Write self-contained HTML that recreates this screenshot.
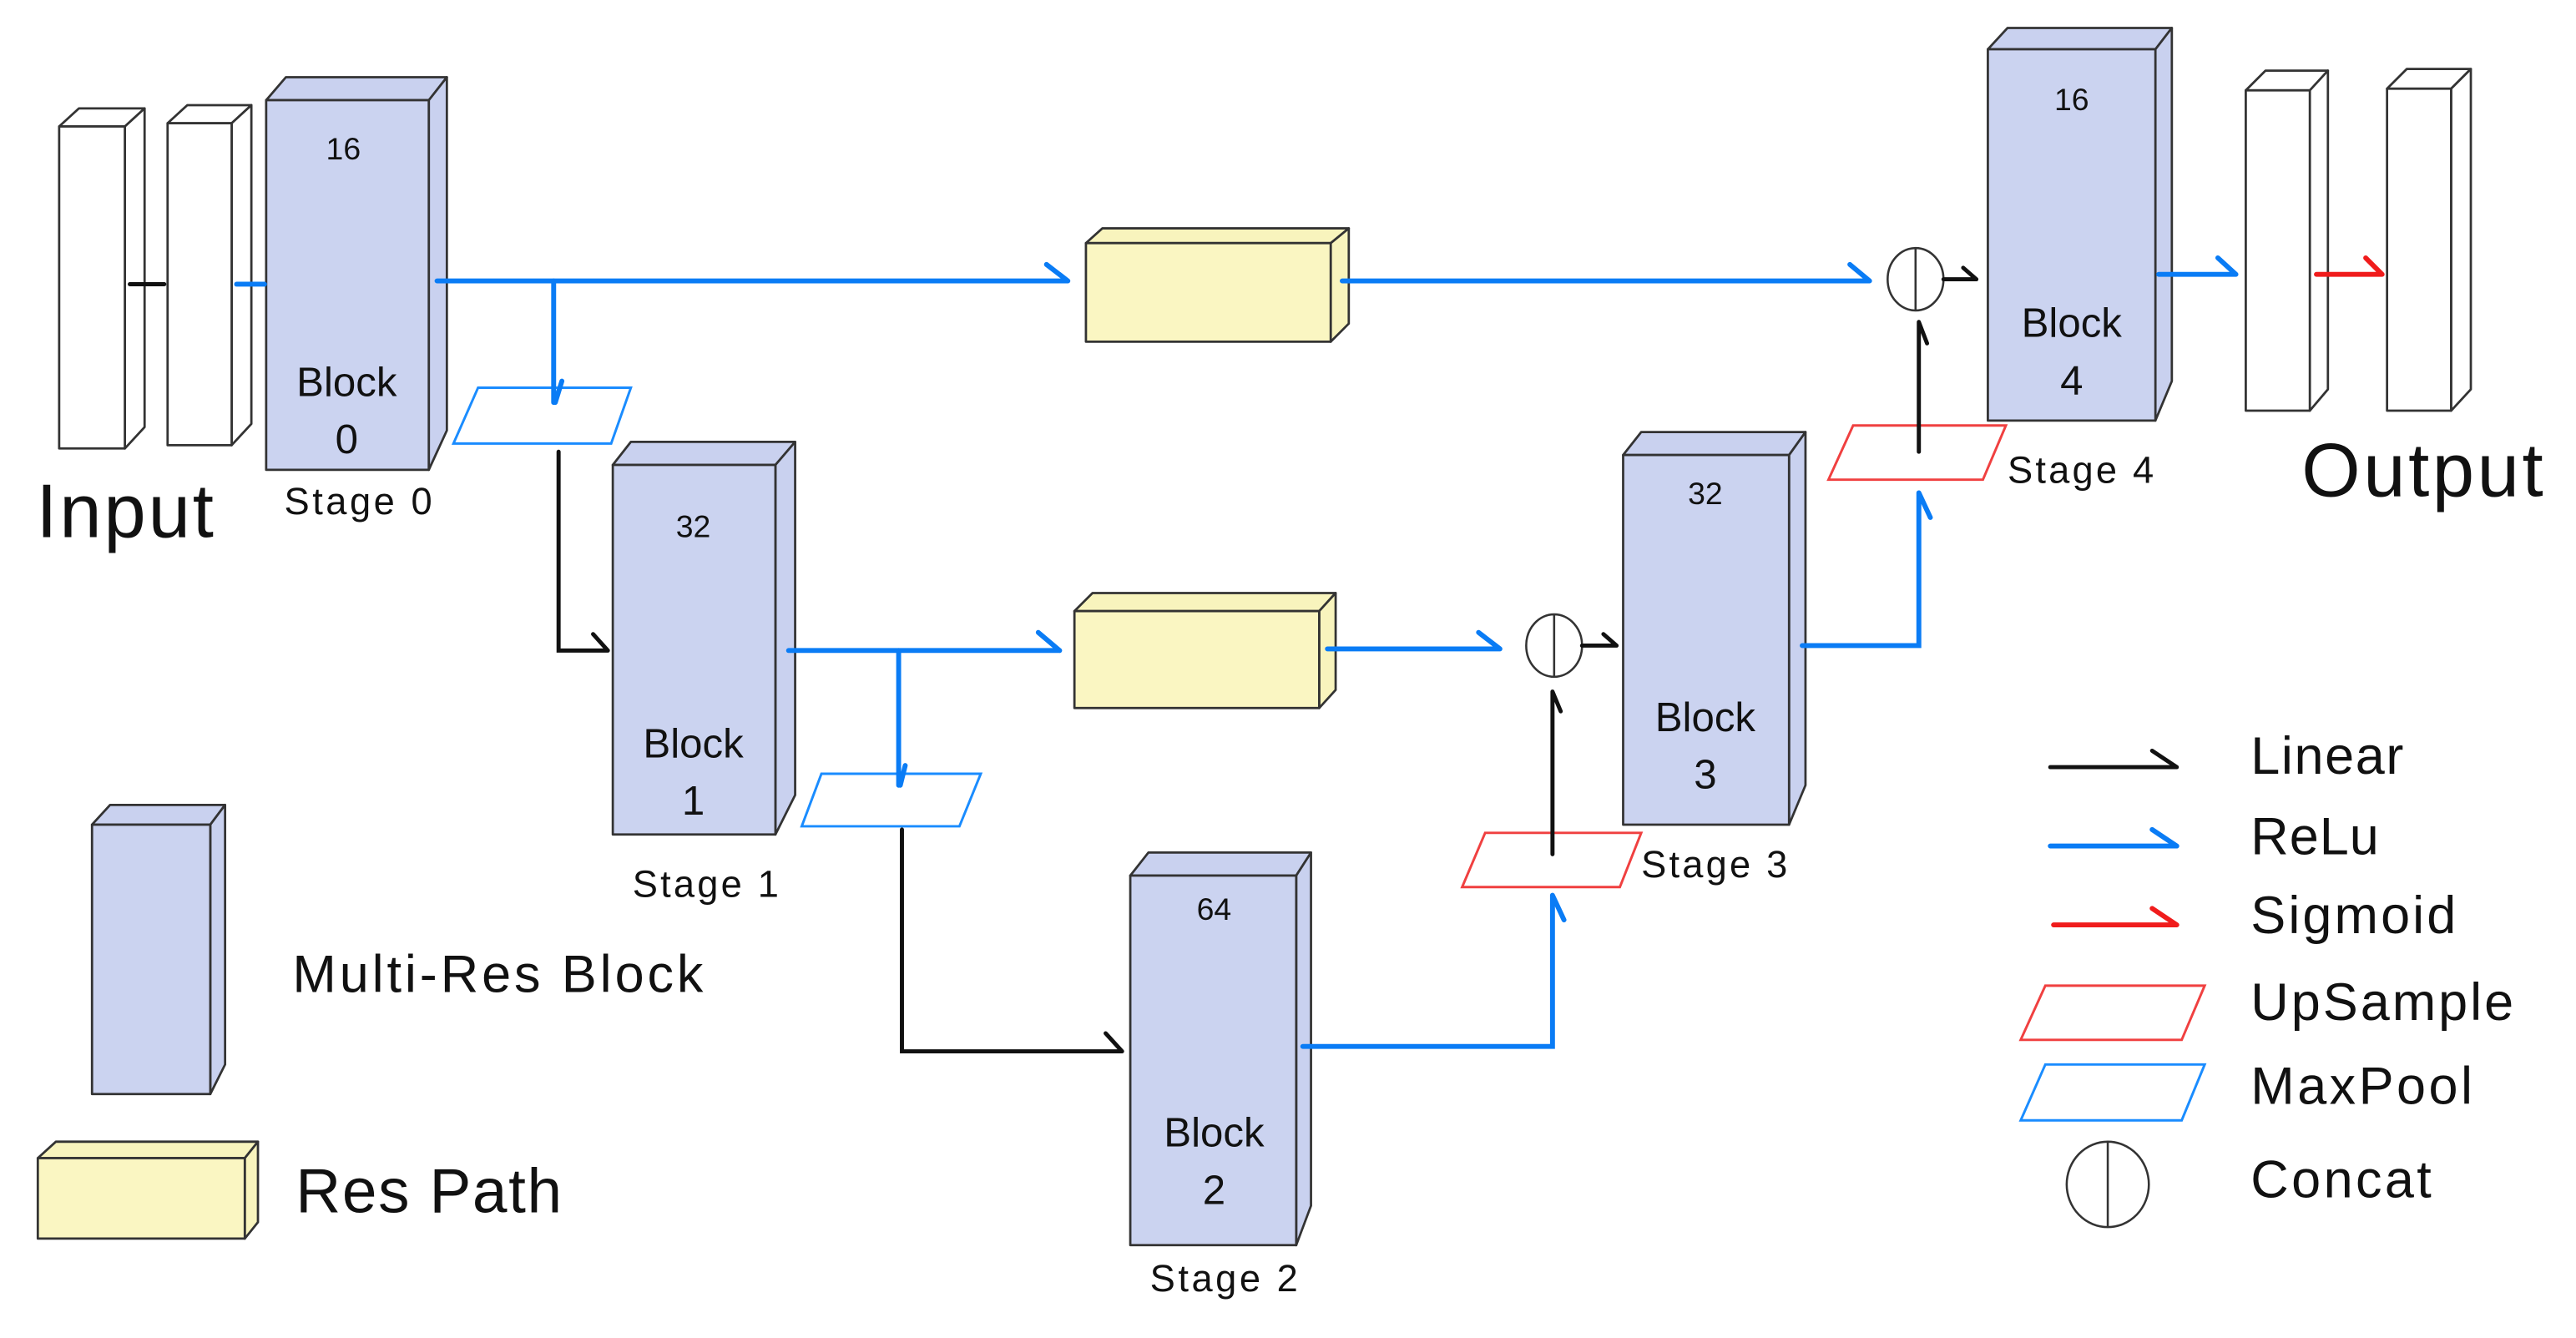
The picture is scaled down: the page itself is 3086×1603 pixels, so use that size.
<!DOCTYPE html>
<html><head><meta charset="utf-8"><style>
html,body{margin:0;padding:0;background:#fff;}
svg{display:block;}
text{font-family:"Liberation Sans","DejaVu Sans",sans-serif;fill:#111;}
</style></head><body>
<svg width="3086" height="1603" viewBox="0 0 1568 814.5" xmlns="http://www.w3.org/2000/svg">
<g stroke="#333" stroke-width="1.4" stroke-linejoin="round">
<polygon points="36,77 48,66 88,66 76,77" fill="#fff"/>
<polygon points="76,77 88,66 88,260 76,273" fill="#fff"/>
<rect x="36" y="77" width="40" height="196" fill="#fff"/>
<polygon points="102,75 114,64 153,64 141,75" fill="#fff"/>
<polygon points="141,75 153,64 153,258 141,271" fill="#fff"/>
<rect x="102" y="75" width="39" height="196" fill="#fff"/>
<polygon points="1367,55 1379,43 1417,43 1406,55" fill="#fff"/>
<polygon points="1406,55 1417,43 1417,237 1406,250" fill="#fff"/>
<rect x="1367" y="55" width="39" height="195" fill="#fff"/>
<polygon points="1453,54 1465,42 1504,42 1492,54" fill="#fff"/>
<polygon points="1492,54 1504,42 1504,237 1492,250" fill="#fff"/>
<rect x="1453" y="54" width="39" height="196" fill="#fff"/>
<polygon points="162,61 174,47 272,47 261,61" fill="#c9d1ef"/>
<polygon points="261,61 272,47 272,262 261,286" fill="#c9d1ef"/>
<rect x="162" y="61" width="99" height="225" fill="#cbd3f0"/>
<polygon points="373,283 384,269 484,269 472,283" fill="#c9d1ef"/>
<polygon points="472,283 484,269 484,484 472,508" fill="#c9d1ef"/>
<rect x="373" y="283" width="99" height="225" fill="#cbd3f0"/>
<polygon points="688,533 699,519 798,519 789,533" fill="#c9d1ef"/>
<polygon points="789,533 798,519 798,734 789,758" fill="#c9d1ef"/>
<rect x="688" y="533" width="101" height="225" fill="#cbd3f0"/>
<polygon points="988,277 999,263 1099,263 1089,277" fill="#c9d1ef"/>
<polygon points="1089,277 1099,263 1099,478 1089,502" fill="#c9d1ef"/>
<rect x="988" y="277" width="101" height="225" fill="#cbd3f0"/>
<polygon points="1210,30 1222,17 1322,17 1312,30" fill="#c9d1ef"/>
<polygon points="1312,30 1322,17 1322,232 1312,256" fill="#c9d1ef"/>
<rect x="1210" y="30" width="102" height="226" fill="#cbd3f0"/>
<polygon points="661,148 671,139 821,139 810,148" fill="#f8f4bd"/>
<polygon points="810,148 821,139 821,197 810,208" fill="#f8f4bd"/>
<rect x="661" y="148" width="149" height="60" fill="#faf6c2"/>
<polygon points="654,372 665,361 813,361 803,372" fill="#f8f4bd"/>
<polygon points="803,372 813,361 813,420 803,431" fill="#f8f4bd"/>
<rect x="654" y="372" width="149" height="59" fill="#faf6c2"/>
<polygon points="56,502 67,490 137,490 128,502" fill="#c9d1ef"/>
<polygon points="128,502 137,490 137,648 128,666" fill="#c9d1ef"/>
<rect x="56" y="502" width="72" height="164" fill="#cbd3f0"/>
<polygon points="23,705 34,695 157,695 149,705" fill="#f8f4bd"/>
<polygon points="149,705 157,695 157,744 149,754" fill="#f8f4bd"/>
<rect x="23" y="705" width="126" height="49" fill="#faf6c2"/>
</g>
<g fill="none" stroke-width="1.5">
<polygon points="291,236 384,236 372,270 276,270" stroke="#1a8cff"/>
<polygon points="500,471 597,471 584,503 488,503" stroke="#1a8cff"/>
<polygon points="904,507 999,507 986,540 890,540" stroke="#f04040"/>
<polygon points="1128,259 1221,259 1207,292 1113,292" stroke="#f04040"/>
<polygon points="1245,600 1342,600 1328,633 1230,633" stroke="#f04040"/>
<polygon points="1245,648 1342,648 1328,682 1230,682" stroke="#1a8cff"/>
</g>
<g fill="#fff" stroke="#333" stroke-width="1.3">
<ellipse cx="1166" cy="170" rx="17" ry="19"/><line x1="1166" y1="151" x2="1166" y2="189"/>
<ellipse cx="946" cy="393" rx="17" ry="19"/><line x1="946" y1="374" x2="946" y2="412"/>
<ellipse cx="1283" cy="721" rx="25" ry="26"/><line x1="1283" y1="695" x2="1283" y2="747"/>
</g>
<g fill="none" stroke="#0a7cf5" stroke-width="3" stroke-linecap="round" stroke-linejoin="miter">
<line x1="144" y1="173" x2="161" y2="173"/>
<path d="M266,171 H650 M637,161 L650,171"/>
<path d="M337,171 V245 M342,232 L338,245"/>
<path d="M817,171 H1138 M1126,161 L1138,171"/>
<path d="M480,396 H645 M632,385 L645,396"/>
<path d="M547,396 V478 M551,466 L548,478"/>
<path d="M808,395 H913 M900,385 L913,395"/>
<path d="M793,637 H945 V545 M945,545 L952,560"/>
<path d="M1097,393 H1168 V300 M1168,300 L1175,315"/>
<path d="M1314,167 H1361 M1350,157 L1361,167"/>
<path d="M1248,515 H1325 M1310,505 L1325,515"/>
</g>
<g fill="none" stroke="#f01c1c" stroke-width="3" stroke-linecap="round">
<path d="M1410,167 H1450 M1440,157 L1450,167"/>
<path d="M1250,563 H1325 M1310,553 L1325,563"/>
</g>
<g fill="none" stroke="#111" stroke-width="2.5" stroke-linecap="round">
<line x1="79" y1="173" x2="100" y2="173"/>
<path d="M340,275 V396 H370 M361,386 L370,396"/>
<path d="M549,505 V640 H683 M673,629 L683,640"/>
<path d="M945,520 V421 M945,421 L950,433"/>
<path d="M1168,275 V196 M1168,196 L1173,209"/>
<path d="M963,393 H984 M976,386 L984,393"/>
<path d="M1183,170 H1203 M1195,163 L1203,170"/>
<path d="M1248,467 H1325 M1310,457 L1325,467"/>
</g>
<g text-anchor="middle">
<text x="209" y="97" font-size="19">16</text>
<text x="211" y="241" font-size="25">Block</text>
<text x="211" y="276" font-size="25">0</text>
<text x="422" y="327" font-size="19">32</text>
<text x="422" y="461" font-size="25">Block</text>
<text x="422" y="496" font-size="25">1</text>
<text x="739" y="560" font-size="19">64</text>
<text x="739" y="698" font-size="25">Block</text>
<text x="739" y="733" font-size="25">2</text>
<text x="1038" y="307" font-size="19">32</text>
<text x="1038" y="445" font-size="25">Block</text>
<text x="1038" y="480" font-size="25">3</text>
<text x="1261" y="67" font-size="19">16</text>
<text x="1261" y="205" font-size="25">Block</text>
<text x="1261" y="240" font-size="25">4</text>
</g>
<text x="173" y="313" font-size="23" textLength="90">Stage 0</text>
<text x="385" y="546" font-size="23" textLength="89">Stage 1</text>
<text x="700" y="786" font-size="23" textLength="90">Stage 2</text>
<text x="22" y="327" font-size="46" textLength="108">Input</text>
<text x="1401" y="302" font-size="46" textLength="147">Output</text>
<text x="999" y="534" font-size="23" textLength="89">Stage 3</text>
<text x="1222" y="294" font-size="23" textLength="89">Stage 4</text>
<text x="178" y="604" font-size="32" textLength="250">Multi-Res Block</text>
<text x="180" y="738" font-size="38" textLength="162">Res Path</text>
<g font-size="32">
<text x="1370" y="471" textLength="93">Linear</text>
<text x="1370" y="520" textLength="78">ReLu</text>
<text x="1370" y="568" textLength="125">Sigmoid</text>
<text x="1370" y="621" textLength="160">UpSample</text>
<text x="1370" y="672" textLength="135">MaxPool</text>
<text x="1370" y="729" textLength="110">Concat</text>
</g>
</svg>
</body></html>
